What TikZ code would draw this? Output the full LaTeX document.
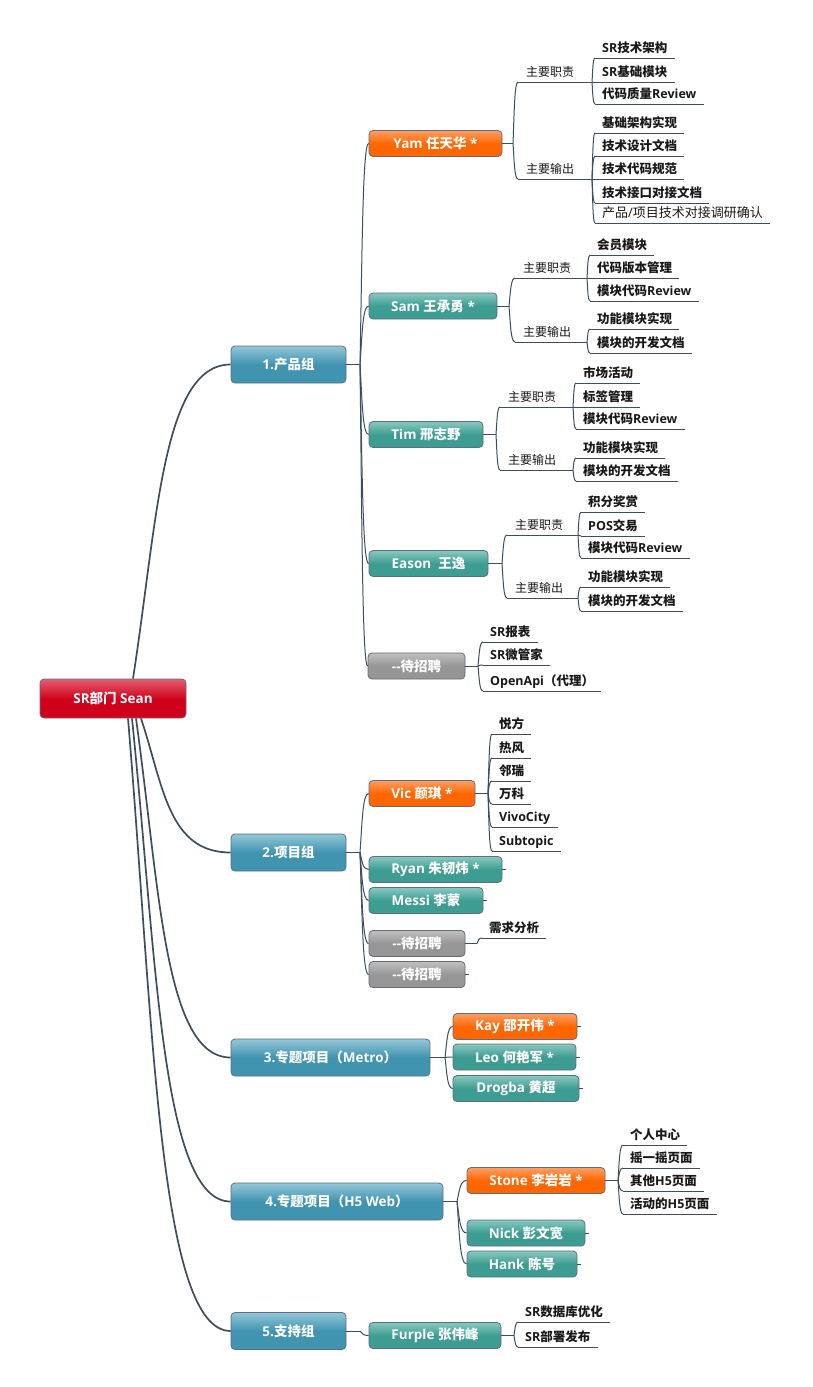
\documentclass[tikz,border=0pt]{standalone}
\usepackage{fontspec}
\setmainfont{Open Sans}
\newfontfamily\cjkfont{Noto Sans CJK SC}
\usetikzlibrary{calc}
\XeTeXinterchartokenstate=1
\newXeTeXintercharclass\CJKcls
\newcount\cjkc
\cjkc="4E00 %
\loop\XeTeXcharclass\cjkc=\CJKcls\relax\ifnum\cjkc<"9FFF \advance\cjkc by 1\relax\repeat
\XeTeXcharclass"FF08=\CJKcls\relax
\XeTeXcharclass"FF09=\CJKcls\relax
\XeTeXinterchartoks 0 \CJKcls = {\cjkfont}
\XeTeXinterchartoks 4095 \CJKcls = {\cjkfont}
\XeTeXinterchartoks \CJKcls 0 = {\rmfamily}
\XeTeXinterchartoks \CJKcls 4095 = {\rmfamily}
\definecolor{lnk}{RGB}{62,78,94}
\definecolor{bdr}{RGB}{95,110,125}
\definecolor{blueT}{RGB}{146,199,216}
\definecolor{blueB}{RGB}{65,148,176}
\definecolor{tealT}{RGB}{136,201,193}
\definecolor{tealB}{RGB}{62,157,146}
\definecolor{orT}{RGB}{255,160,100}
\definecolor{orB}{RGB}{255,102,0}
\definecolor{grT}{RGB}{192,192,192}
\definecolor{grB}{RGB}{150,150,150}
\definecolor{redT}{RGB}{228,96,114}
\definecolor{redB}{RGB}{208,2,27}
\tikzset{
  boxbase/.style={draw=bdr, line width=0.8pt, rounded corners=4pt, text=white,
    font=\fontsize{13.5}{15}\selectfont\bfseries, inner sep=0pt, minimum height=26pt, align=center},
  rootbox/.style={boxbase, top color=redT, bottom color=redB, middle color=redB, minimum height=39pt},
  grpbox/.style={boxbase, top color=blueT, bottom color=blueB, middle color=blueB, minimum height=37pt},
  tealbox/.style={boxbase, top color=tealT, bottom color=tealB, middle color=tealB},
  orbox/.style={boxbase, top color=orT, bottom color=orB, middle color=orB},
  graybox/.style={boxbase, top color=grT, bottom color=grB, middle color=grB},
  leafnode/.style={anchor=south west, inner xsep=7pt, inner ysep=5pt, text depth=0pt,
    font=\fontsize{12.5}{14}\selectfont\bfseries, text=black!90},
  labnode/.style={leafnode, inner xsep=8pt, font=\fontsize{12}{14}\selectfont},
  cn/.style={draw=lnk, line width=1pt},
  rootcn/.style={draw=lnk, line width=1.7pt},
  ul/.style={draw=lnk, line width=1pt},
  bez/.style={to path={let \p1=(\tikztostart), \p2=(\tikztotarget) in
    .. controls ({\x1+0.25*(\x2-\x1)},{\y1+0.5*(\y2-\y1)}) and ({\x1+0.3*(\x2-\x1)},{\y2}) .. (\tikztotarget)}}
}
\newcommand\mkleaf[5][]{\node[leafnode,#1] (#2) at (#3,#4) {#5}; \draw[ul] (#2.south west) -- (#2.south east);}
\newcommand\mklab[4]{\node[labnode] (#1) at (#2,#3) {#4}; \draw[ul] (#1.south west) -- (#1.south east);}
\newcommand\mkconn[2]{\draw[cn] (#1) to[bez] (#2);}
\begin{document}
\begin{tikzpicture}[x=1pt,y=-1pt]
\fill[white] (0,0) rectangle (812,1387);
\useasboundingbox (0,0) rectangle (812,1387);

% root and groups
\node[rootbox, minimum width=146pt] (root) at (113,698.5) {SR部门 Sean};
\node[grpbox, minimum width=115pt] (g1) at (288.5,364.5) {1.产品组};
\node[grpbox, minimum width=115pt] (g2) at (288.5,852.5) {2.项目组};
\node[grpbox, minimum width=199pt] (g3) at (330.5,1057.5) {3.专题项目（Metro）};
\node[grpbox, minimum width=212pt] (g4) at (337,1201.5) {4.专题项目（H5 Web）};
\node[grpbox, minimum width=115pt] (g5) at (288.5,1331) {5.支持组};

\draw[rootcn] ([xshift=20pt]root.north) to[bez] (g1.west);
\draw[rootcn] ([xshift=28pt]root.south) to[bez] (g2.west);
\draw[rootcn] ([xshift=23pt]root.south) to[bez] (g3.west);
\draw[rootcn] ([xshift=19pt]root.south) to[bez] (g4.west);
\draw[rootcn] ([xshift=15pt]root.south) to[bez] (g5.west);

% level 2
\node[orbox, minimum width=133pt] (yam) at (435.5,143.5) {Yam 任天华 *};
\node[tealbox, minimum width=128pt] (sam) at (433,306) {Sam 王承勇 *};
\node[tealbox, minimum width=114pt] (tim) at (426,434.5) {Tim 邢志野};
\node[tealbox, minimum width=119pt] (eason) at (428.5,563.5) {Eason~~王逸};
\node[graybox, minimum width=97pt] (hire1) at (416.5,666) {{-}{-}待招聘};
\node[orbox, minimum width=106pt] (vic) at (422,793.5) {Vic 颜琪 *};
\node[tealbox, minimum width=133pt] (ryan) at (435.5,869.5) {Ryan 朱韧炜 *};
\node[tealbox, minimum width=114pt] (messi) at (426,900.5) {Messi 李蒙};
\node[graybox, minimum width=96pt] (hire2) at (417,943.5) {{-}{-}待招聘};
\node[graybox, minimum width=96pt] (hire3) at (417,974.5) {{-}{-}待招聘};
\node[orbox, minimum width=124pt] (kay) at (515,1026.5) {Kay 邵开伟 *};
\node[tealbox, minimum width=123pt] (leo) at (514.5,1057) {Leo 何艳军 *};
\node[tealbox, minimum width=126pt] (drogba) at (516,1088.5) {Drogba 黄超};
\node[orbox, minimum width=138pt] (stone) at (536,1180.5) {Stone 李岩岩 *};
\node[tealbox, minimum width=118pt] (nick) at (526,1233) {Nick 彭文宽};
\node[tealbox, minimum width=110pt] (hank) at (522,1264) {Hank 陈号};
\node[tealbox, minimum width=132pt] (furple) at (435,1335.5) {Furple 张伟峰};

\coordinate (J1) at (360,364.5);
\coordinate (J2) at (360,852.5);
\coordinate (J3) at (445,1057.5);
\coordinate (J4) at (457,1201.5);
\coordinate (J5) at (360,1331);
\draw[cn] (g1.east) -- (J1);
\draw[cn] (g2.east) -- (J2);
\draw[cn] (g3.east) -- (J3);
\draw[cn] (g4.east) -- (J4);
\draw[cn] (g5.east) -- (J5);
\foreach \c in {yam,sam,tim,eason,hire1} {\mkconn{J1}{\c.west}}
\foreach \c in {vic,ryan,messi,hire2,hire3} {\mkconn{J2}{\c.west}}
\foreach \c in {kay,leo,drogba} {\mkconn{J3}{\c.west}}
\foreach \c in {stone,nick,hank} {\mkconn{J4}{\c.west}}
\mkconn{J5}{furple.west}

% stubs
\foreach \c in {ryan,messi,hire3,kay,leo,drogba,nick,hank} {\draw[cn] (\c.east) -- ++(4,0);}

% Yam
\coordinate (jyam) at (513,143.5);
\draw[cn] (yam.east) -- (jyam);
\mklab{yamR}{518}{82}{主要职责}
\mklab{yamO}{518}{179}{主要输出}
\mkconn{jyam}{yamR.south west}
\mkconn{jyam}{yamO.south west}
\coordinate (jyamR) at (592,82);
\coordinate (jyamO) at (592,179);
\draw[cn] (yamR.south east) -- (jyamR);
\draw[cn] (yamO.south east) -- (jyamO);
\mkleaf{y1}{595}{58}{SR技术架构}
\mkleaf{y2}{595}{82}{SR基础模块}
\mkleaf{y3}{595}{104}{代码质量Review}
\mkleaf{y4}{595}{133}{基础架构实现}
\mkleaf{y5}{595}{156}{技术设计文档}
\mkleaf{y6}{595}{179}{技术代码规范}
\mkleaf{y7}{595}{203}{技术接口对接文档}
\mkleaf[font=\fontsize{13}{14}\selectfont]{y8}{595}{223}{产品/项目技术对接调研确认}
\foreach \c in {y1,y2,y3} {\mkconn{jyamR}{\c.south west}}
\foreach \c in {y4,y5,y6,y7,y8} {\mkconn{jyamO}{\c.south west}}

% Sam
\coordinate (jsam) at (509,306);
\draw[cn] (sam.east) -- (jsam);
\mklab{samR}{515}{278}{主要职责}
\mklab{samO}{515}{342}{主要输出}
\mkconn{jsam}{samR.south west}
\mkconn{jsam}{samO.south west}
\coordinate (jsamR) at (587,278);
\coordinate (jsamO) at (587,342);
\draw[cn] (samR.south east) -- (jsamR);
\draw[cn] (samO.south east) -- (jsamO);
\mkleaf{s1}{590}{255}{会员模块}
\mkleaf{s2}{590}{278}{代码版本管理}
\mkleaf{s3}{590}{301}{模块代码Review}
\mkleaf{s4}{590}{329}{功能模块实现}
\mkleaf{s5}{590}{353}{模块的开发文档}
\foreach \c in {s1,s2,s3} {\mkconn{jsamR}{\c.south west}}
\foreach \c in {s4,s5} {\mkconn{jsamO}{\c.south west}}

% Tim
\coordinate (jtim) at (496,434.5);
\draw[cn] (tim.east) -- (jtim);
\mklab{timR}{500}{407}{主要职责}
\mklab{timO}{500}{470}{主要输出}
\mkconn{jtim}{timR.south west}
\mkconn{jtim}{timO.south west}
\coordinate (jtimR) at (573,407);
\coordinate (jtimO) at (573,470);
\draw[cn] (timR.south east) -- (jtimR);
\draw[cn] (timO.south east) -- (jtimO);
\mkleaf{t1}{576}{383}{市场活动}
\mkleaf{t2}{576}{407}{标签管理}
\mkleaf{t3}{576}{429}{模块代码Review}
\mkleaf{t4}{576}{458}{功能模块实现}
\mkleaf{t5}{576}{481}{模块的开发文档}
\foreach \c in {t1,t2,t3} {\mkconn{jtimR}{\c.south west}}
\foreach \c in {t4,t5} {\mkconn{jtimO}{\c.south west}}

% Eason
\coordinate (jeason) at (502,563.5);
\draw[cn] (eason.east) -- (jeason);
\mklab{eaR}{507}{535}{主要职责}
\mklab{eaO}{507}{598}{主要输出}
\mkconn{jeason}{eaR.south west}
\mkconn{jeason}{eaO.south west}
\coordinate (jeaR) at (578,535);
\coordinate (jeaO) at (578,598);
\draw[cn] (eaR.south east) -- (jeaR);
\draw[cn] (eaO.south east) -- (jeaO);
\mkleaf{e1}{581}{512}{积分奖赏}
\mkleaf{e2}{581}{536}{POS交易}
\mkleaf{e3}{581}{558}{模块代码Review}
\mkleaf{e4}{581}{587}{功能模块实现}
\mkleaf{e5}{581}{611}{模块的开发文档}
\foreach \c in {e1,e2,e3} {\mkconn{jeaR}{\c.south west}}
\foreach \c in {e4,e5} {\mkconn{jeaO}{\c.south west}}

% hire1
\coordinate (jh1) at (478,666);
\draw[cn] (hire1.east) -- (jh1);
\mkleaf{h1}{483}{642}{SR报表}
\mkleaf{h2}{483}{665}{SR微管家}
\mkleaf{h3}{483}{691}{OpenApi（代理）}
\foreach \c in {h1,h2,h3} {\mkconn{jh1}{\c.south west}}

% Vic
\coordinate (jvic) at (488,793.5);
\draw[cn] (vic.east) -- (jvic);
\mkleaf{v1}{492}{734}{悦方}
\mkleaf{v2}{492}{758}{热风}
\mkleaf{v3}{492}{781}{邻瑞}
\mkleaf{v4}{492}{804}{万科}
\mkleaf{v5}{492}{827}{VivoCity}
\mkleaf{v6}{492}{851}{Subtopic}
\foreach \c in {v1,v2,v3,v4,v5,v6} {\mkconn{jvic}{\c.south west}}

% hire2
\coordinate (jh2) at (477,943.5);
\draw[cn] (hire2.east) -- (jh2);
\mkleaf{q1}{482}{938}{需求分析}
\mkconn{jh2}{q1.south west}

% Stone
\coordinate (jstone) at (618,1180.5);
\draw[cn] (stone.east) -- (jstone);
\mkleaf{st1}{623}{1145}{个人中心}
\mkleaf{st2}{623}{1168}{摇一摇页面}
\mkleaf{st3}{623}{1191}{其他H5页面}
\mkleaf{st4}{623}{1214}{活动的H5页面}
\foreach \c in {st1,st2,st3,st4} {\mkconn{jstone}{\c.south west}}

% Furple
\coordinate (jfur) at (514,1335.5);
\draw[cn] (furple.east) -- (jfur);
\mkleaf{f1}{518}{1322}{SR数据库优化}
\mkleaf{f2}{518}{1347}{SR部署发布}
\foreach \c in {f1,f2} {\mkconn{jfur}{\c.south west}}
\end{tikzpicture}
\end{document}
